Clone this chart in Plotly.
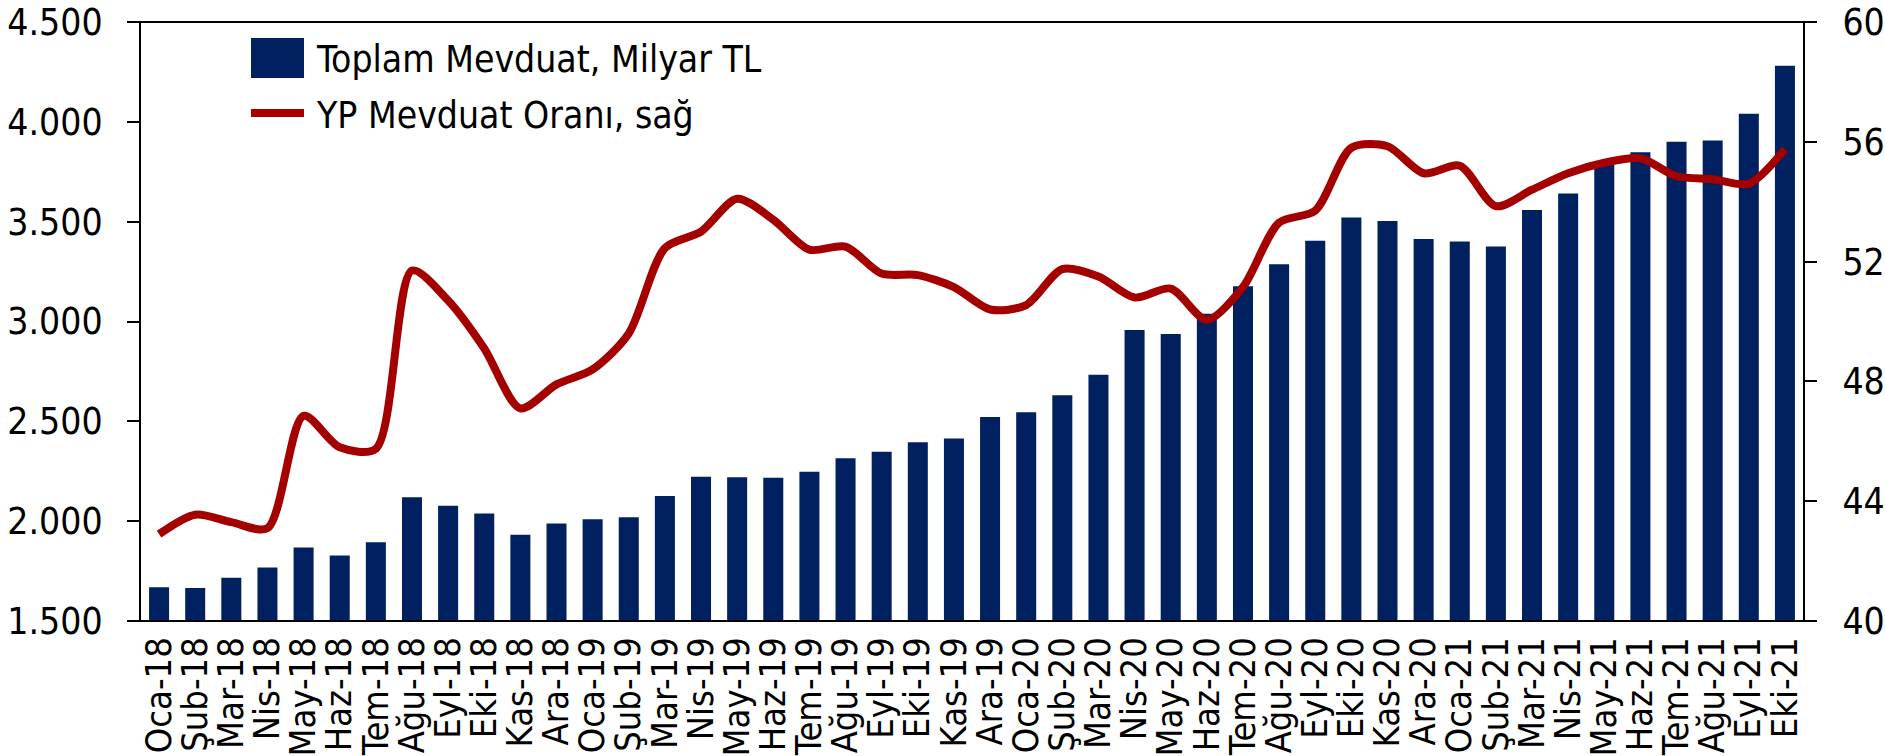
import plotly.graph_objects as go

categories = ["Oca-18","Şub-18","Mar-18","Nis-18","May-18","Haz-18","Tem-18","Ağu-18","Eyl-18","Eki-18","Kas-18","Ara-18",
              "Oca-19","Şub-19","Mar-19","Nis-19","May-19","Haz-19","Tem-19","Ağu-19","Eyl-19","Eki-19","Kas-19","Ara-19",
              "Oca-20","Şub-20","Mar-20","Nis-20","May-20","Haz-20","Tem-20","Ağu-20","Eyl-20","Eki-20","Kas-20","Ara-20",
              "Oca-21","Şub-21","Mar-21","Nis-21","May-21","Haz-21","Tem-21","Ağu-21","Eyl-21","Eki-21"]

toplam_mevduat = [1669,1665,1716,1768,1868,1828,1895,2120,2077,2039,1932,1988,
                  2010,2019,2126,2222,2220,2218,2248,2315,2348,2395,2414,2522,
                  2546,2631,2733,2958,2937,3039,3176,3287,3405,3521,3503,3413,
                  3401,3376,3558,3641,3784,3848,3900,3906,4041,4281]

yp_orani = [42.9,43.55,43.3,43.1,46.85,45.8,45.75,51.7,50.7,49.1,47.1,47.9,
            48.4,49.6,52.45,53.0,54.1,53.4,52.4,52.5,51.6,51.55,51.15,50.4,
            50.55,51.75,51.5,50.8,51.1,50.05,51.15,53.3,53.7,55.8,55.85,54.95,
            55.2,53.85,54.4,54.95,55.3,55.45,54.85,54.75,54.6,55.75]

left_ticks = [1500, 2000, 2500, 3000, 3500, 4000, 4500]
left_ticktext = ["1.500", "2.000", "2.500", "3.000", "3.500", "4.000", "4.500"]
right_ticks = [40, 44, 48, 52, 56, 60]

legend_labels = ["Toplam Mevduat, Milyar TL", "YP Mevduat Oranı, sağ"]

BAR_COLOR = "#002060"
LINE_COLOR = "#A50000"
FONT = "Tahoma, 'DejaVu Sans Condensed', 'Liberation Sans', sans-serif"
FS = 36
YFS = 37
LFS = 37

W, H = 1885, 756
ML, MR, MT, MB = 141, 82, 22, 135
PW = W - ML - MR
PH = H - MT - MB

fig = go.Figure()
fig.add_trace(go.Bar(x=categories, y=toplam_mevduat, marker=dict(color=BAR_COLOR, line=dict(width=0)),
                     name=legend_labels[0], showlegend=False, yaxis="y"))
fig.add_trace(go.Scatter(x=categories, y=yp_orani, mode="lines",
                         line=dict(color=LINE_COLOR, width=8, shape="spline", smoothing=0.8),
                         name=legend_labels[1], showlegend=False, yaxis="y2"))

tick_ext = 12 / PW
shapes = [
    dict(type="line", xref="paper", yref="paper", x0=-tick_ext, x1=1 + tick_ext, y0=1, y1=1,
         line=dict(color="black", width=2)),
    dict(type="line", xref="paper", yref="paper", x0=-tick_ext, x1=1 + tick_ext, y0=0, y1=0,
         line=dict(color="black", width=2)),
    # legend symbols
    dict(type="rect", xref="paper", yref="paper", xsizemode="pixel", ysizemode="pixel",
         xanchor=0, yanchor=1, x0=110, x1=163, y0=-16, y1=-56,
         fillcolor=BAR_COLOR, line=dict(width=0)),
    dict(type="line", xref="paper", yref="paper", xsizemode="pixel", ysizemode="pixel",
         xanchor=0, yanchor=1, x0=110, x1=163, y0=-91, y1=-91,
         line=dict(color=LINE_COLOR, width=8)),
]

annotations = [
    dict(text=legend_labels[0], xref="paper", yref="paper", x=(314 - ML) / PW, y=(MT + PH - 60) / PH,
         xanchor="left", yanchor="middle", showarrow=False, font=dict(family=FONT, size=LFS, color="black")),
    dict(text=legend_labels[1], xref="paper", yref="paper", x=(314 - ML) / PW, y=(MT + PH - 115) / PH,
         xanchor="left", yanchor="middle", showarrow=False, font=dict(family=FONT, size=LFS, color="black")),
]

fig.update_layout(
    width=W, height=H,
    margin=dict(l=ML, r=MR, t=MT, b=MB, pad=0, autoexpand=False),
    plot_bgcolor="white", paper_bgcolor="white",
    bargap=0.446,
    font=dict(family=FONT, size=FS, color="black"),
    xaxis=dict(type="category", tickmode="array", tickvals=categories, ticktext=categories,
               tickangle=-90, showline=False, ticks="", showgrid=False, zeroline=False, automargin=False,
               tickfont=dict(family=FONT, size=FS, color="black"), ticklabelstandoff=8),
    yaxis=dict(range=[1500, 4500], tickmode="array", tickvals=left_ticks, ticktext=left_ticktext,
               showline=True, linecolor="black", linewidth=2, ticks="outside", ticklen=12,
               tickwidth=2, tickcolor="black", showgrid=False, zeroline=False, automargin=False,
               tickfont=dict(family=FONT, size=YFS, color="black"), ticklabelstandoff=17),
    yaxis2=dict(range=[40, 60], tickmode="array", tickvals=right_ticks, overlaying="y", side="right",
                showline=True, linecolor="black", linewidth=2, ticks="outside", ticklen=12,
                tickwidth=2, tickcolor="black", showgrid=False, zeroline=False, automargin=False,
                tickfont=dict(family=FONT, size=YFS, color="black"), ticklabelstandoff=18),
    shapes=shapes,
    annotations=annotations,
)

fig.write_html("out.html", config={"displayModeBar": False},
               post_script="document.body.style.margin='0px';document.body.style.overflow='hidden';")
